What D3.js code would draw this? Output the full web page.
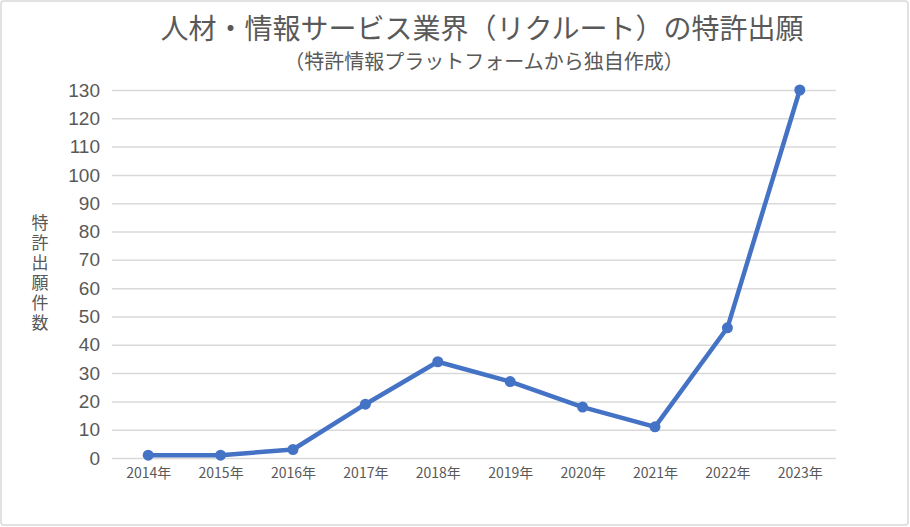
<!DOCTYPE html>
<html>
<head>
<meta charset="utf-8">
<script src="https://cdn.jsdelivr.net/npm/d3@7"></script>
<style>
  body { margin: 0; background: #fff; }
  text { font-family: "Noto Sans CJK JP", "Noto Sans", sans-serif; }
</style>
</head>
<body>
<div id="wrapper"></div>
<script>
const years = ["2014年", "2015年", "2016年", "2017年", "2018年", "2019年", "2020年", "2021年", "2022年", "2023年"];
const filings = [1, 1, 3, 19, 34, 27, 18, 11, 46, 130];
const yTicks = d3.range(0, 131, 10);
const title = "人材・情報サービス業界（リクルート）の特許出願";
const subtitle = "（特許情報プラットフォームから独自作成）";
const yTitle = "特許出願件数";

let dimensions = {
  width: 910,
  height: 527,
  margin: { top: 90, left: 112, bottom: 69, right: 74 }
}
dimensions.boundedWidth = dimensions.width - dimensions.margin.left - dimensions.margin.right;
dimensions.boundedHeight = dimensions.height - dimensions.margin.top - dimensions.margin.bottom;

const wrapper = d3.select("#wrapper").append("svg")
    .attr("width", dimensions.width)
    .attr("height", dimensions.height);

// outer frame
wrapper.append("rect")
    .attr("x", 1).attr("y", 1)
    .attr("width", dimensions.width - 3).attr("height", dimensions.height - 3)
    .attr("rx", 3)
    .attr("fill", "#fff")
    .attr("stroke", "#d9d9d9")
    .attr("stroke-width", 1.5);

const container = wrapper.append("g")
    .attr("transform", `translate(${dimensions.margin.left}, ${dimensions.margin.top})`);

const xScale = d3.scalePoint()
    .domain(years)
    .range([0, dimensions.boundedWidth])
    .padding(0.5);

const yScale = d3.scaleLinear()
    .domain([0, 130])
    .range([dimensions.boundedHeight, 0]);

// gridlines + y labels
const yAxis = d3.axisLeft(yScale)
    .tickValues(yTicks)
    .tickSize(-dimensions.boundedWidth)
    .tickPadding(12);
const gy = container.append("g").call(yAxis);
gy.select(".domain").remove();
gy.selectAll(".tick line").attr("stroke", "#d9d9d9").attr("stroke-width", 1.5);
gy.selectAll(".tick text")
    .attr("fill", "#595959")
    .style("font-family", "'Liberation Sans', sans-serif")
    .style("font-size", "19px");

// x labels
const xAxis = d3.axisBottom(xScale).tickSize(0).tickPadding(10);
const gx = container.append("g")
    .attr("transform", `translate(0, ${dimensions.boundedHeight})`)
    .call(xAxis);
gx.select(".domain").remove();
gx.selectAll(".tick text")
    .attr("fill", "#595959")
    .style("font-size", "14px");

// line
const line = d3.line()
    .x((d, i) => xScale(years[i]))
    .y(d => yScale(d));

container.append("path")
    .datum(filings)
    .attr("fill", "none")
    .attr("stroke", "#4472C4")
    .attr("stroke-width", 4.5)
    .attr("stroke-linejoin", "round")
    .attr("d", line);

container.selectAll("circle")
    .data(filings)
    .enter()
    .append("circle")
    .attr("cx", (d, i) => xScale(years[i]))
    .attr("cy", d => yScale(d))
    .attr("r", 5.5)
    .attr("fill", "#4472C4");

// Title
wrapper.append("text")
    .attr("x", 482)
    .attr("y", 39)
    .attr("text-anchor", "middle")
    .attr("fill", "#595959")
    .style("font-size", "28px")
    .text(title);

wrapper.append("text")
    .attr("x", 484)
    .attr("y", 69)
    .attr("text-anchor", "middle")
    .attr("fill", "#595959")
    .style("font-size", "20px")
    .text(subtitle);

// Y title (vertical)
wrapper.append("text")
    .attr("x", 40)
    .attr("y", 214)
    .attr("fill", "#595959")
    .style("writing-mode", "vertical-rl")
    .style("font-size", "17px")
    .style("letter-spacing", "3px")
    .text(yTitle);
</script>
</body>
</html>
